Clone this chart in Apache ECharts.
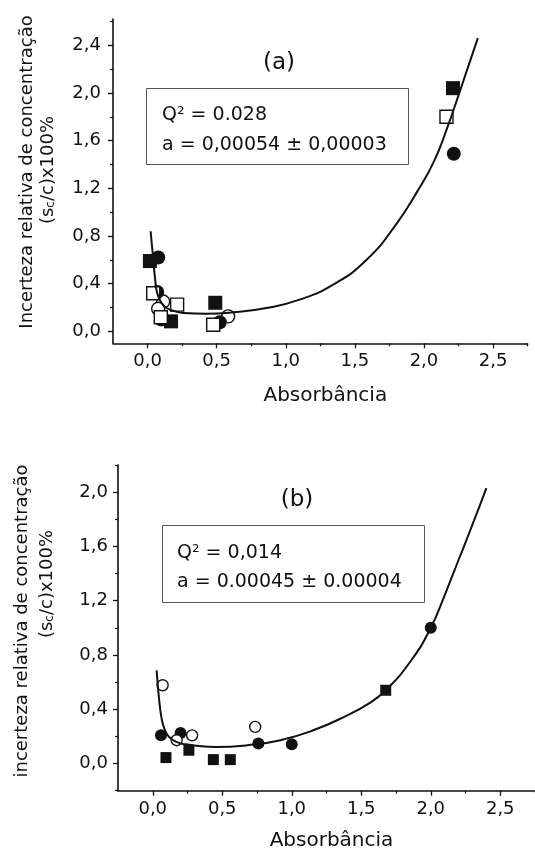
<!DOCTYPE html>
<html>
<head>
<meta charset="utf-8">
<script src="https://cdn.jsdelivr.net/npm/echarts@6/dist/echarts.min.js"></script>
<style>
html,body{margin:0;padding:0;background:#fff}
#chart{width:535px;height:852px}
</style>
</head>
<body>
<div id="chart"></div>
<script>
// ---- panel (a) data ----
var aCurve = [[0.022,0.84],[0.04,0.62],[0.053,0.46],[0.07,0.32],[0.1,0.24],[0.137,0.196],[0.2,0.168],[0.258,0.154],
  [0.427,0.148],[0.62,0.16],[0.86,0.196],[1.1,0.266],[1.343,0.392],[1.585,0.6],[1.8,0.9],[1.95,1.17],
  [2.07,1.42],[2.16,1.68],[2.25,1.98],[2.32,2.22],[2.39,2.46]];
var aFilledSq = [[0.017,0.59],[0.17,0.084],[0.49,0.24],[2.21,2.04]];
var aFilledCi = [[0.077,0.62],[0.07,0.33],[0.1,0.1],[0.523,0.076],[2.216,1.49]];
var aOpenSq = [[0.041,0.32],[0.096,0.118],[0.214,0.224],[0.475,0.056],[2.163,1.8]];
var aOpenCi = [[0.113,0.25],[0.077,0.19],[0.583,0.126]];

// ---- panel (b) data ----
var bCurve = [[0.028,0.687],[0.045,0.48],[0.066,0.319],[0.09,0.24],[0.118,0.196],[0.17,0.16],[0.236,0.142],
  [0.448,0.122],[0.683,0.135],[0.918,0.172],[1.154,0.245],[1.389,0.35],[1.55,0.44],[1.676,0.54],[1.86,0.761],
  [2.0,1.0],[2.1,1.24],[2.2,1.5],[2.3,1.76],[2.4,2.03]];
var bFilledCi = [[0.059,0.208],[0.2,0.225],[0.76,0.147],[1.0,0.142],[2.0,1.0]];
var bFilledSq = [[0.095,0.044],[0.26,0.098],[0.436,0.029],[0.558,0.029],[1.676,0.54]];
var bOpenCi = [[0.071,0.577],[0.172,0.172],[0.283,0.208],[0.737,0.27]];

// ---- ticks ----
var xTicks = [0, 0.5, 1.0, 1.5, 2.0, 2.5];
var xMinor = [0.25, 0.75, 1.25, 1.75, 2.25, 2.75];
var yTicksA = [0, 0.4, 0.8, 1.2, 1.6, 2.0, 2.4];
var yMinorA = [0.2, 0.6, 1.0, 1.4, 1.8, 2.2, 2.6];
var yTicksB = [0, 0.4, 0.8, 1.2, 1.6, 2.0];
var yMinorB = [-0.2, 0.2, 0.6, 1.0, 1.4, 1.8, 2.2];

var FONT = 'DejaVu Sans';
var INK = '#111';
function fmt(v){ return v.toFixed(1).replace('.', ','); }

function mainX(grid, min, max, margin, gap){
  return {
    type:'value', gridIndex:grid, min:min, max:max, position:'bottom',
    axisLine:{show:true, onZero:false, lineStyle:{color:INK, width:1.6}},
    axisTick:{show:true, inside:false, length:5, customValues:xTicks, lineStyle:{color:INK, width:1.3}},
    axisLabel:{customValues:xTicks, formatter:fmt, color:INK, fontFamily:FONT, fontSize:18, margin:margin},
    splitLine:{show:false},
    name:'Absorbância', nameLocation:'middle', nameGap:gap,
    nameTextStyle:{color:INK, fontFamily:FONT, fontSize:20, padding:[0,0,0,10]}
  };
}
function minorX(grid, min, max){
  return {
    type:'value', gridIndex:grid, min:min, max:max, position:'bottom', offset:0,
    axisLine:{show:false, onZero:false},
    axisTick:{show:true, inside:false, length:3, customValues:xMinor, lineStyle:{color:INK, width:1.2}},
    axisLabel:{show:false}, splitLine:{show:false}
  };
}
function mainY(grid, min, max, ticks, margin){
  return {
    type:'value', gridIndex:grid, min:min, max:max, position:'left',
    axisLine:{show:true, onZero:false, lineStyle:{color:INK, width:1.6}},
    axisTick:{show:true, inside:false, length:5, customValues:ticks, lineStyle:{color:INK, width:1.3}},
    axisLabel:{customValues:ticks, formatter:fmt, color:INK, fontFamily:FONT, fontSize:18, margin:margin},
    splitLine:{show:false}
  };
}
function minorY(grid, min, max, ticks){
  return {
    type:'value', gridIndex:grid, min:min, max:max, position:'left', offset:0,
    axisLine:{show:false, onZero:false},
    axisTick:{show:true, inside:false, length:3, customValues:ticks, lineStyle:{color:INK, width:1.2}},
    axisLabel:{show:false}, splitLine:{show:false}
  };
}

function curve(data, xi, yi){
  return {type:'line', data:data, xAxisIndex:xi, yAxisIndex:yi, smooth:0.5,
    showSymbol:false, lineStyle:{color:INK, width:2}, silent:true};
}
function pts(data, xi, yi, sym, size, filled){
  return {type:'scatter', data:data, xAxisIndex:xi, yAxisIndex:yi, symbol:sym, symbolSize:size,
    itemStyle: filled ? {color:INK, opacity:1} : {color:'#fff', borderColor:INK, borderWidth:1.4, opacity:1}};
}

var chart = echarts.init(document.getElementById('chart'), null, {renderer:'canvas'});

chart.setOption({
  animation:false,
  backgroundColor:'#fff',
  grid:[
    {left:113, right:7.4, top:19, bottom:508.7},
    {left:118, right:-7.7, top:465, bottom:61.3}
  ],
  xAxis:[
    mainX(0, -0.25, 2.75, 9, 42), minorX(0, -0.25, 2.75),
    mainX(1, -0.25, 2.75, 10, 40), minorX(1, -0.25, 2.75)
  ],
  yAxis:[
    mainY(0, -0.1, 2.62, yTicksA, 12), minorY(0, -0.1, 2.62, yMinorA),
    mainY(1, -0.2, 2.2, yTicksB, 10), minorY(1, -0.2, 2.2, yMinorB)
  ],
  series:[
    curve(aCurve, 0, 0),
    pts(aOpenCi, 0, 0, 'circle', 13, false),
    pts(aFilledCi, 0, 0, 'circle', 14, true),
    pts(aFilledSq, 0, 0, 'rect', 14, true),
    pts(aOpenSq, 0, 0, 'rect', 13, false),

    curve(bCurve, 2, 2),
    pts(bFilledSq, 2, 2, 'rect', 11, true),
    pts(bFilledCi, 2, 2, 'circle', 12, true),
    pts(bOpenCi, 2, 2, 'circle', 11, false)
  ],
  graphic:[
    // panel labels
    {type:'text', x:279, y:63, style:{text:'(a)', fontFamily:FONT, fontSize:23, fill:INK, align:'center', verticalAlign:'middle', textAlign:'center', textVerticalAlign:'middle'}},
    {type:'text', x:297, y:500, style:{text:'(b)', fontFamily:FONT, fontSize:23, fill:INK, align:'center', verticalAlign:'middle', textAlign:'center', textVerticalAlign:'middle'}},
    // boxes
    {type:'rect', shape:{x:146.5, y:88.5, width:262, height:76}, style:{fill:'#fff', stroke:'#555', lineWidth:1}},
    {type:'text', x:162, y:115, style:{text:'Q² = 0.028', fontFamily:FONT, fontSize:19, fill:INK, align:'left', verticalAlign:'middle', textAlign:'left', textVerticalAlign:'middle'}},
    {type:'text', x:162, y:145, style:{text:'a = 0,00054 ± 0,00003', fontFamily:FONT, fontSize:19, fill:INK, align:'left', verticalAlign:'middle', textAlign:'left', textVerticalAlign:'middle'}},
    {type:'rect', shape:{x:162.5, y:525.5, width:262, height:77}, style:{fill:'#fff', stroke:'#555', lineWidth:1}},
    {type:'text', x:177, y:553, style:{text:'Q² = 0,014', fontFamily:FONT, fontSize:19, fill:INK, align:'left', verticalAlign:'middle', textAlign:'left', textVerticalAlign:'middle'}},
    {type:'text', x:177, y:582, style:{text:'a = 0.00045 ± 0.00004', fontFamily:FONT, fontSize:19, fill:INK, align:'left', verticalAlign:'middle', textAlign:'left', textVerticalAlign:'middle'}},
    // y titles
    {type:'text', x:27, y:172, rotation:Math.PI/2, style:{text:'Incerteza relativa de concentração', fontFamily:FONT, fontSize:18, fill:INK, align:'center', verticalAlign:'middle', textAlign:'center', textVerticalAlign:'middle'}},
    {type:'text', x:48, y:170, rotation:Math.PI/2, style:{text:'(s{sub|c}/c)x100%', fontFamily:FONT, fontSize:18, fill:INK, align:'center', verticalAlign:'middle', textAlign:'center', textVerticalAlign:'middle',
      rich:{sub:{fontFamily:FONT, fontSize:12, fill:INK, verticalAlign:'bottom', lineHeight:4}}}},
    {type:'text', x:22, y:621, rotation:Math.PI/2, style:{text:'incerteza relativa de concentração', fontFamily:FONT, fontSize:18, fill:INK, align:'center', verticalAlign:'middle', textAlign:'center', textVerticalAlign:'middle'}},
    {type:'text', x:47, y:584, rotation:Math.PI/2, style:{text:'(s{sub|c}/c)x100%', fontFamily:FONT, fontSize:18, fill:INK, align:'center', verticalAlign:'middle', textAlign:'center', textVerticalAlign:'middle',
      rich:{sub:{fontFamily:FONT, fontSize:12, fill:INK, verticalAlign:'bottom', lineHeight:4}}}}
  ]
});
</script>
</body>
</html>
